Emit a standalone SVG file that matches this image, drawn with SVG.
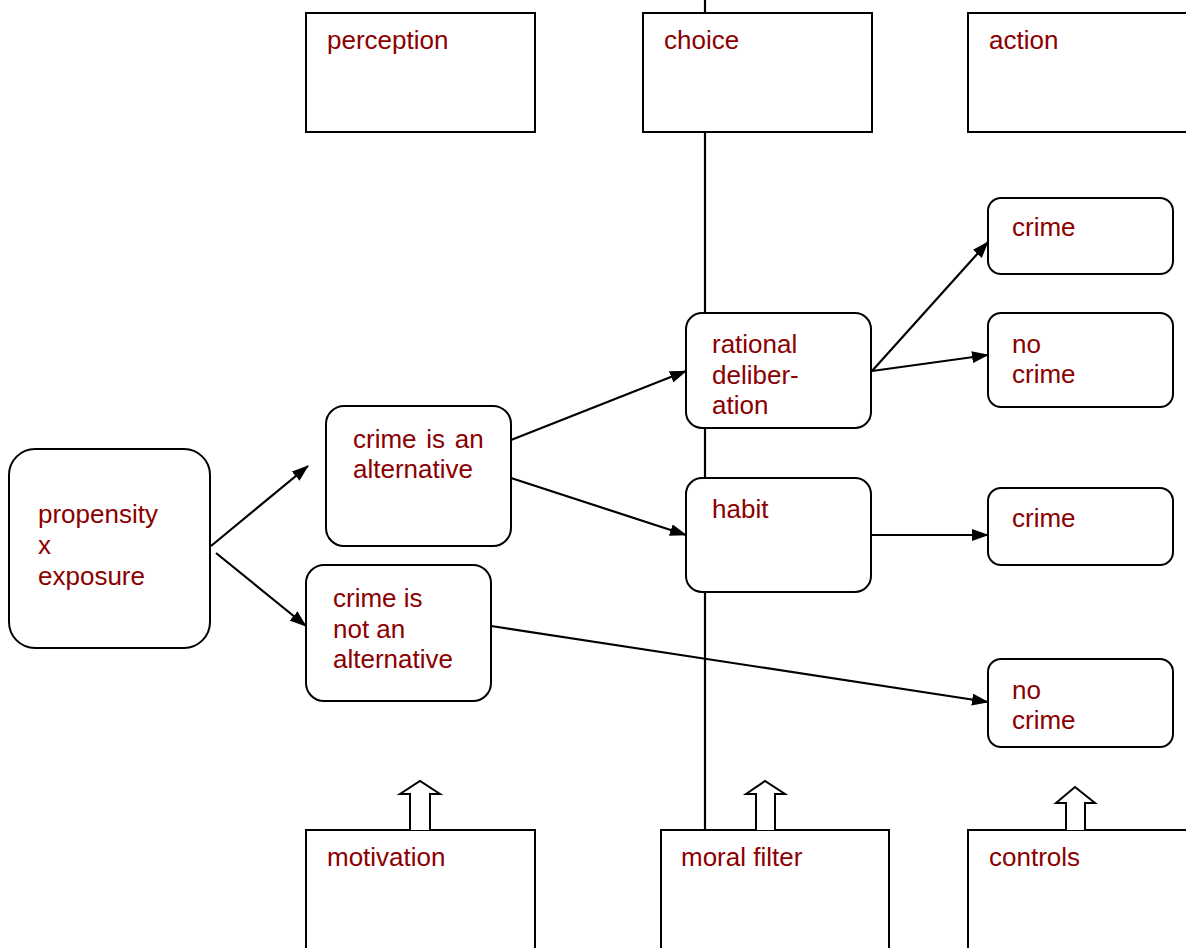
<svg xmlns="http://www.w3.org/2000/svg" width="1186" height="948" viewBox="0 0 1186 948">
<style>
.box{fill:#fff;stroke:#000;stroke-width:2}
.t{font-family:"Liberation Sans",Arial,sans-serif;font-size:26px;fill:#8b0000}
.c{stroke:#000;stroke-width:2.2;fill:none}
.ha{fill:#fff;stroke:#000;stroke-width:2}
</style>
<defs>
<marker id="ah" viewBox="0 0 17 12" refX="16" refY="6" markerWidth="17" markerHeight="12" markerUnits="userSpaceOnUse" orient="auto">
<path d="M0,0 L17,6 L0,12 Z" fill="#000"/>
</marker>
</defs>
<rect width="1186" height="948" fill="#fff"/>
<g id="axis"><line x1="705" y1="0" x2="705" y2="830" class="c" stroke-width="2"/></g>
<g id="perception"><rect class="box" x="306" y="13" width="229" height="119"/><text class="t" x="327" y="49">perception</text></g>
<g id="choice"><rect class="box" x="643" y="13" width="229" height="119"/><text class="t" x="664" y="49">choice</text></g>
<g id="action"><rect class="box" x="968" y="13" width="240" height="119"/><text class="t" x="989" y="49">action</text></g>
<g id="propensity"><rect class="box" x="9" y="449" width="201" height="199" rx="26"/><text class="t" x="38" y="523">propensity</text><text class="t" x="38" y="554">x</text><text class="t" x="38" y="585">exposure</text></g>
<g id="alt"><rect class="box" x="326" y="406" width="185" height="140" rx="18"/><text class="t" x="353" y="448" word-spacing="2.5">crime is an</text><text class="t" x="353" y="478">alternative</text></g>
<g id="notalt"><rect class="box" x="306" y="565" width="185" height="136" rx="18"/><text class="t" x="333" y="607">crime is</text><text class="t" x="333" y="638">not an</text><text class="t" x="333" y="668">alternative</text></g>
<g id="rational"><rect class="box" x="686" y="313" width="185" height="115" rx="16"/><text class="t" x="712" y="353">rational</text><text class="t" x="712" y="384">deliber-</text><text class="t" x="712" y="414">ation</text></g>
<g id="habit"><rect class="box" x="686" y="478" width="185" height="114" rx="16"/><text class="t" x="712" y="518">habit</text></g>
<g id="crime1"><rect class="box" x="988" y="198" width="185" height="76" rx="13"/><text class="t" x="1012" y="236">crime</text></g>
<g id="nocrime1"><rect class="box" x="988" y="313" width="185" height="94" rx="13"/><text class="t" x="1012" y="353">no</text><text class="t" x="1012" y="383">crime</text></g>
<g id="crime2"><rect class="box" x="988" y="488" width="185" height="77" rx="13"/><text class="t" x="1012" y="527">crime</text></g>
<g id="nocrime2"><rect class="box" x="988" y="659" width="185" height="88" rx="13"/><text class="t" x="1012" y="699">no</text><text class="t" x="1012" y="729">crime</text></g>
<g id="motivation"><rect class="box" x="306" y="830" width="229" height="130"/><text class="t" x="327" y="866">motivation</text></g>
<g id="moral"><rect class="box" x="661" y="830" width="228" height="130"/><text class="t" x="681" y="866">moral filter</text></g>
<g id="controls"><rect class="box" x="968" y="830" width="240" height="130"/><text class="t" x="989" y="866">controls</text></g>
<g id="connectors">
<line class="c" x1="211" y1="546" x2="308" y2="466" marker-end="url(#ah)"/>
<line class="c" x1="216" y1="553" x2="306" y2="626" marker-end="url(#ah)"/>
<line class="c" x1="511" y1="440" x2="686" y2="371" marker-end="url(#ah)"/>
<line class="c" x1="511" y1="478" x2="686" y2="535" marker-end="url(#ah)"/>
<line class="c" x1="872" y1="371" x2="988" y2="242" marker-end="url(#ah)"/>
<line class="c" x1="872" y1="371" x2="988" y2="355" marker-end="url(#ah)"/>
<line class="c" x1="871" y1="535" x2="988" y2="535" marker-end="url(#ah)"/>
<line class="c" x1="491" y1="626" x2="988" y2="702" marker-end="url(#ah)"/>
<path class="ha" d="M410,830 V794 H400 L420,781 L440,794 H430 V830"/>
<path class="ha" d="M756,830 V794 H746 L765,781 L785,794 H775 V830"/>
<path class="ha" d="M1066,830 V803 H1056 L1075,787 L1095,803 H1085 V830"/>
</g>
</svg>
